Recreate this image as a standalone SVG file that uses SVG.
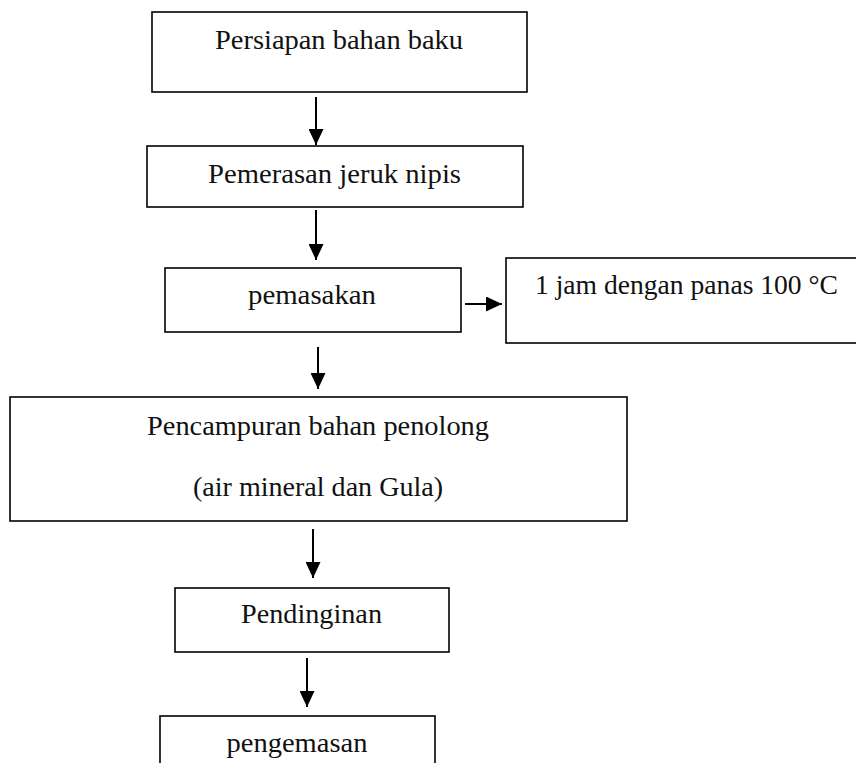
<svg xmlns="http://www.w3.org/2000/svg" width="856" height="763" viewBox="0 0 856 763">
<style>
.box{fill:#fff;stroke:#000;stroke-width:1.6}
.lbl{font-family:"Liberation Serif","Times New Roman",serif;font-size:28px;fill:#111;text-anchor:middle}
.con{stroke:#000;stroke-width:2;fill:none}
</style>
<defs>
<marker id="ah" viewBox="0 0 16 15" refX="16" refY="7.5" markerWidth="16" markerHeight="15" markerUnits="userSpaceOnUse" orient="auto">
<path d="M0,0 L16,7.5 L0,15 Z" fill="#000"/>
</marker>
</defs>
<rect width="856" height="763" fill="#fff"/>
<g id="connectors">
<line class="con" x1="316" y1="97" x2="316" y2="145" marker-end="url(#ah)"/>
<line class="con" x1="316" y1="210" x2="316" y2="260" marker-end="url(#ah)"/>
<line class="con" x1="465" y1="304" x2="502" y2="304" marker-end="url(#ah)"/>
<line class="con" x1="318" y1="347" x2="318" y2="389" marker-end="url(#ah)"/>
<line class="con" x1="313" y1="529" x2="313" y2="578" marker-end="url(#ah)"/>
<line class="con" x1="307" y1="658" x2="307" y2="707" marker-end="url(#ah)"/>
</g>
<g id="n1">
<rect class="box" x="152" y="12" width="375" height="80"/>
<text class="lbl" x="339" y="49" textLength="248" lengthAdjust="spacingAndGlyphs">Persiapan bahan baku</text>
</g>
<g id="n2">
<rect class="box" x="147" y="146" width="376" height="61"/>
<text class="lbl" x="334.5" y="183" textLength="253" lengthAdjust="spacingAndGlyphs">Pemerasan jeruk nipis</text>
</g>
<g id="n3">
<rect class="box" x="165" y="268" width="296" height="64"/>
<text class="lbl" x="312" y="304" textLength="128" lengthAdjust="spacingAndGlyphs">pemasakan</text>
</g>
<g id="n4">
<rect class="box" x="506" y="258" width="360" height="85"/>
<text class="lbl" x="686.5" y="294" textLength="303" lengthAdjust="spacingAndGlyphs">1 jam dengan panas 100 °C</text>
</g>
<g id="n5">
<rect class="box" x="10" y="397" width="617" height="124"/>
<text class="lbl" x="318" y="435" textLength="342" lengthAdjust="spacingAndGlyphs">Pencampuran bahan penolong</text>
<text class="lbl" x="318" y="496" textLength="250" lengthAdjust="spacingAndGlyphs">(air mineral dan Gula)</text>
</g>
<g id="n6">
<rect class="box" x="175" y="588" width="274" height="64"/>
<text class="lbl" x="311.5" y="623" textLength="141" lengthAdjust="spacingAndGlyphs">Pendinginan</text>
</g>
<g id="n7">
<rect class="box" x="160" y="716" width="275" height="60"/>
<text class="lbl" x="297" y="752" textLength="141" lengthAdjust="spacingAndGlyphs">pengemasan</text>
</g>
</svg>
